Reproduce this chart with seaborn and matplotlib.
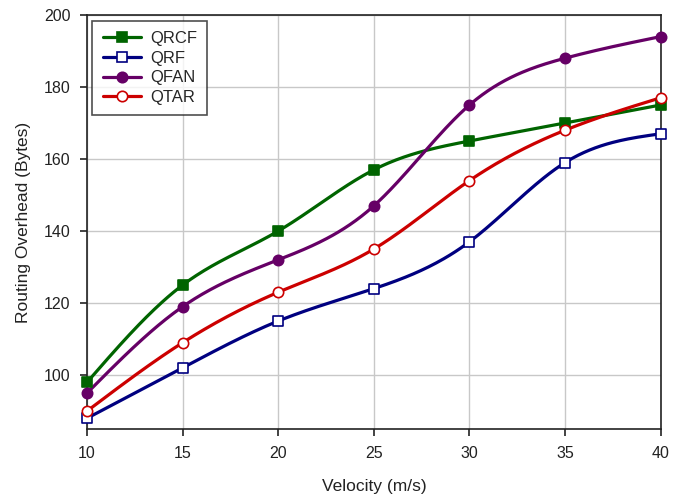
import numpy as np
import pandas as pd
import matplotlib
matplotlib.use("Agg")
import matplotlib.pyplot as plt
from matplotlib.lines import Line2D
import seaborn as sns

velocity = [10, 15, 20, 25, 30, 35, 40]
qrcf = [98, 125, 140, 157, 165, 170, 175]
qrf = [88, 102, 115, 124, 137, 159, 167]
qfan = [95, 119, 132, 147, 175, 188, 194]
qtar = [90, 109, 123, 135, 154, 168, 177]
series_names = ["QRCF", "QRF", "QFAN", "QTAR"]
x_ticks = [10, 15, 20, 25, 30, 35, 40]
y_ticks = [100, 120, 140, 160, 180, 200]


def natural_spline(x, y, n=300):
    x = np.asarray(x, float)
    y = np.asarray(y, float)
    k = len(x)
    h = np.diff(x)
    A = np.zeros((k, k))
    b = np.zeros(k)
    A[0, 0] = A[-1, -1] = 1
    for i in range(1, k - 1):
        A[i, i - 1] = h[i - 1]
        A[i, i] = 2 * (h[i - 1] + h[i])
        A[i, i + 1] = h[i]
        b[i] = 3 * ((y[i + 1] - y[i]) / h[i] - (y[i] - y[i - 1]) / h[i - 1])
    c = np.linalg.solve(A, b)
    xs = np.linspace(x[0], x[-1], n)
    idx = np.clip(np.searchsorted(x, xs) - 1, 0, k - 2)
    dx = xs - x[idx]
    bb = (y[1:] - y[:-1]) / h - h * (2 * c[:-1] + c[1:]) / 3
    d = (c[1:] - c[:-1]) / (3 * h)
    ys = y[idx] + bb[idx] * dx + c[idx] * dx ** 2 + d[idx] * dx ** 3
    return xs, ys


sns.set_theme(style="white")
plt.rcParams["font.family"] = ["Liberation Sans", "DejaVu Sans"]

fig = plt.figure(figsize=(6.86, 5.0), dpi=100)
ax = fig.add_axes([0.127, 0.142, 0.836, 0.828])

styles = [
    dict(name="QRCF", vals=qrcf, color="#006400", marker="s", fill=True),
    dict(name="QRF", vals=qrf, color="#000080", marker="s", fill=False),
    dict(name="QFAN", vals=qfan, color="#660066", marker="o", fill=True),
    dict(name="QTAR", vals=qtar, color="#cc0000", marker="o", fill=False),
]

handles = []
for s in styles:
    xs, ys = natural_spline(velocity, s["vals"])
    sns.lineplot(x=xs, y=ys, ax=ax, color=s["color"], linewidth=2.3, legend=False, zorder=3)
    df = pd.DataFrame({"x": velocity, "y": s["vals"]})
    face = s["color"] if s["fill"] else "white"
    sns.scatterplot(data=df, x="x", y="y", ax=ax, marker=s["marker"], s=55,
                    facecolor=face, edgecolor=s["color"], linewidth=1.2, zorder=4, legend=False,
                    clip_on=False)
    handles.append(Line2D([0], [0], color=s["color"], linewidth=2.3, marker=s["marker"],
                          markersize=7.5, markerfacecolor=face, markeredgecolor=s["color"],
                          markeredgewidth=1.2))

ax.set_xlim(10, 40)
ax.set_ylim(85, 200)
ax.set_xticks(x_ticks)
ax.set_yticks(y_ticks)
ax.grid(True, color="#c8c8c8", linewidth=1.0)
ax.set_axisbelow(True)
for side in ["left", "bottom", "top", "right"]:
    ax.spines[side].set_visible(True)
    ax.spines[side].set_color("#222222")
    ax.spines[side].set_linewidth(1.2)
ax.tick_params(axis="both", which="major", direction="out", length=5, width=1.2,
               color="#222222", labelsize=11.5, labelcolor="#222222",
               bottom=True, left=True, top=False, right=False, pad=7)
ax.set_xlabel("Velocity (m/s)", fontsize=12.5, color="#222222", labelpad=13)
ax.set_ylabel("Routing Overhead (Bytes)", fontsize=12.5, color="#222222", labelpad=9)

leg = ax.legend(handles, series_names, loc="upper left", bbox_to_anchor=(0.009, 0.986),
                borderaxespad=0, frameon=True, fancybox=False, edgecolor="#222222", fontsize=12,
                handlelength=2.3, handletextpad=0.55, labelspacing=0.28, borderpad=0.62)
leg.get_frame().set_linewidth(1.2)

fig.savefig("out.png", dpi=100)
